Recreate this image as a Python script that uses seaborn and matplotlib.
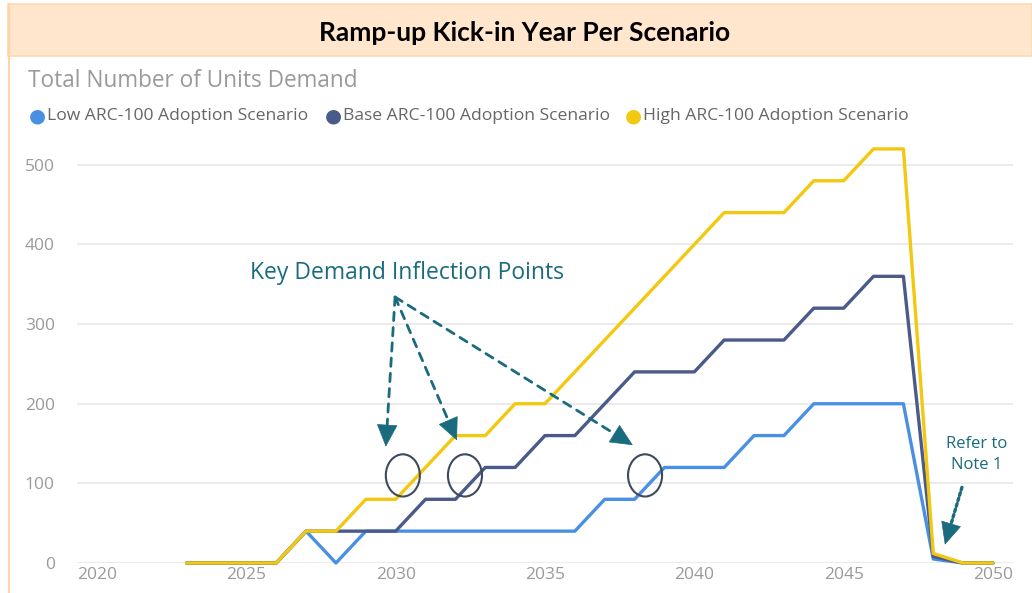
import numpy as np
import pandas as pd
import matplotlib
matplotlib.use('Agg')
import matplotlib.pyplot as plt
import seaborn as sns
from matplotlib.patches import Rectangle, Ellipse

# Данные графика
years = list(range(2023, 2051))
low = [0, 0, 0, 0, 40, 0, 40, 40, 40, 40, 40, 40, 40, 40, 80, 80, 120, 120, 120,
       160, 160, 200, 200, 200, 200, 5, 0, 0]
base = [0, 0, 0, 0, 40, 40, 40, 40, 80, 80, 120, 120, 160, 160, 200, 240, 240, 240,
        280, 280, 280, 320, 320, 360, 360, 8, 0, 0]
high = [0, 0, 0, 0, 40, 40, 80, 80, 120, 160, 160, 200, 200, 240, 280, 320, 360, 400,
        440, 440, 440, 480, 480, 520, 520, 12, 0, 0]
scenarios = ['Low ARC-100 Adoption Scenario', 'Base ARC-100 Adoption Scenario',
             'High ARC-100 Adoption Scenario']
colors = ['#4A90E2', '#4A5A8A', '#F2C811']
x_ticks = [2020, 2025, 2030, 2035, 2040, 2045, 2050]
y_ticks = [0, 100, 200, 300, 400, 500]

# Аннотации
circles = [(2030.24, 110), (2032.32, 110), (2038.35, 110)]
arrow_start = (2029.98, 334)
arrow_ends = [(2029.67, 146), (2032.05, 154), (2037.94, 148)]
note_start = (2048.96, 95)
note_end = (2048.39, 23)

df = pd.DataFrame({'year': years * 3,
                   'units': low + base + high,
                   'scenario': np.repeat(scenarios, len(years))})

sns.set_style('white')
plt.rcParams['font.family'] = ['Open Sans', 'DejaVu Sans']

fig = plt.figure(figsize=(10.32, 5.93), dpi=100)
W, H = 1032, 593

# Заголовочная плашка и рамка
fig.patches.append(Rectangle((8 / W, 1 - 56 / H), 1 - 8 / W, 52 / H, transform=fig.transFigure,
                             facecolor='#FFE6CC', edgecolor='#FDD9AF', lw=1.2, zorder=0))
fig.lines.append(plt.Line2D([8.5 / W, 8.5 / W], [0, 1 - 4 / H], transform=fig.transFigure,
                            color='#FCD6A8', lw=1.5))
fig.text(525 / W, 1 - 33 / H, 'Ramp-up Kick-in Year Per Scenario', ha='center', va='center',
         fontsize=19, fontweight='bold', family=['Lato', 'DejaVu Sans'], color='black')
fig.text(28 / W, 1 - 81 / H, 'Total Number of Units Demand', ha='left', va='center',
         fontsize=16.3, color='#9A9A9A')

# Легенда
leg_x = [37, 333, 633]
for xx, name, c in zip(leg_x, scenarios, colors):
    fig.text(xx / W, 1 - 116 / H, '\u25CF', ha='center', va='center', fontsize=14, color=c)
    fig.text((xx + 10) / W, 1 - 116 / H, name, ha='left', va='center', fontsize=12.6,
             color='#666666')

ax = fig.add_axes([77 / W, 1 - 563 / H, (1013 - 77) / W, (563 - 133) / H])
sns.lineplot(data=df, x='year', y='units', hue='scenario', palette=colors, lw=2.4,
             legend=False, ax=ax, clip_on=False, zorder=3)

ax.set_xlim(2019.33, 2050.67)
ax.set_ylim(0, 540)
ax.set_xticks(x_ticks)
ax.set_yticks(y_ticks)
ax.grid(axis='y', color='#E8E8E8', lw=1.2)
ax.grid(axis='x', visible=False)
for s in ax.spines.values():
    s.set_visible(False)
ax.tick_params(axis='both', length=0, labelsize=12.5, colors='#9A9A9A')
ax.tick_params(axis='y', pad=16)
ax.tick_params(axis='x', pad=3)
ax.set_xlabel('')
ax.set_ylabel('')

teal = '#1A6B7D'


def arrow(start, end, style, lw=2):
    # линия пунктиром и отдельно сплошной наконечник
    p0 = ax.transData.transform(start)
    p1 = ax.transData.transform(end)
    frac = 1 - 8 / np.hypot(*(p1 - p0))
    mid = (start[0] + (end[0] - start[0]) * frac, start[1] + (end[1] - start[1]) * frac)
    ax.annotate('', xy=mid, xytext=start,
                arrowprops=dict(arrowstyle='-', color=teal, lw=lw, linestyle=style,
                                shrinkA=0, shrinkB=0))
    ax.annotate('', xy=end, xytext=mid,
                arrowprops=dict(arrowstyle='-|>,head_length=1.5,head_width=0.7', color=teal,
                                lw=0.5, shrinkA=0, shrinkB=0))


ax.text(2030.38, 364, 'Key Demand Inflection Points', ha='center', va='center',
        fontsize=16.5, color=teal)
for end in arrow_ends:
    arrow(arrow_start, end, (0, (3, 2.5)))
for cx, cy in circles:
    ax.add_patch(Ellipse((cx, cy), 1.14, 53, fill=False, edgecolor='#3D4A5C', lw=1.5, zorder=5))

ax.text(2049.46, 136, 'Refer to\nNote 1', ha='center', va='center', fontsize=12,
        color=teal, linespacing=1.45)
arrow(note_start, note_end, (0, (0.8, 0.9)), lw=2.4)

fig.savefig('out.png', dpi=100)
